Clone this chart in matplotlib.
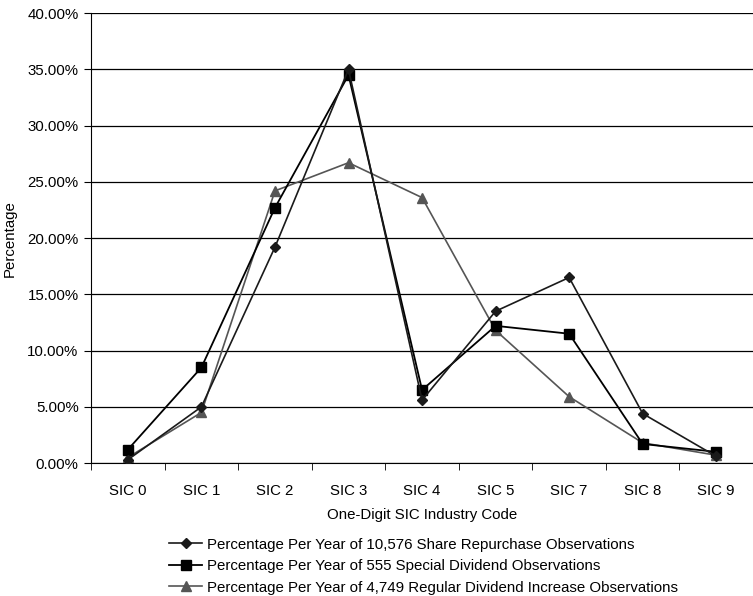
# librerías
import matplotlib
matplotlib.use("Agg")
import matplotlib.pyplot as plt
from matplotlib.ticker import FuncFormatter, MultipleLocator

plt.rcParams['font.family'] = ['Liberation Sans', 'DejaVu Sans']

# datos
categorias = ["SIC 0", "SIC 1", "SIC 2", "SIC 3", "SIC 4", "SIC 5", "SIC 7", "SIC 8", "SIC 9"]
recompra = [0.3, 5.0, 19.2, 35.0, 5.6, 13.5, 16.5, 4.4, 0.6]
especial = [1.2, 8.5, 22.7, 34.5, 6.5, 12.2, 11.5, 1.7, 1.0]
regular = [0.5, 4.5, 24.2, 26.7, 23.6, 11.8, 5.9, 1.8, 0.7]

etiquetas = [
    "Percentage Per Year of 10,576 Share Repurchase Observations",
    "Percentage Per Year of 555 Special Dividend Observations",
    "Percentage Per Year of 4,749 Regular Dividend Increase Observations",
]

fig = plt.figure(figsize=(7.53, 5.96), dpi=100)
ax = fig.add_axes([0.121, 0.223, 0.879, 0.755])

x = list(range(len(categorias)))
l1, = ax.plot(x, [v / 100 for v in recompra], color="#1a1a1a", lw=1.2,
              marker="D", ms=5.5, zorder=4)
l2, = ax.plot(x, [v / 100 for v in especial], color="black", lw=1.3,
              marker="s", ms=7, zorder=3)
l3, = ax.plot(x, [v / 100 for v in regular], color="#555555", lw=1.2,
              marker="^", ms=7, zorder=2)

ax.set_xlim(-0.5, len(categorias) - 0.5)
ax.set_ylim(0, 0.40)
ax.yaxis.set_major_locator(MultipleLocator(0.05))
ax.yaxis.set_major_formatter(FuncFormatter(lambda v, p: "%.2f%%" % (v * 100)))
ax.grid(axis="y", color="black", lw=0.9)
ax.set_axisbelow(True)

ax.set_xticks(x)
ax.set_xticklabels(categorias)
ax.set_xticks([i - 0.5 for i in range(len(categorias) + 1)], minor=True)
ax.tick_params(axis="x", which="major", length=0, pad=15, labelsize=10.8)
ax.tick_params(axis="x", which="minor", length=5, direction="out", color="black")
ax.tick_params(axis="y", length=5, direction="out", labelsize=10.8, pad=4)

for lado in ["top", "right"]:
    ax.spines[lado].set_visible(False)
ax.spines["left"].set_color("black")
ax.spines["bottom"].set_color("black")

ax.set_xlabel("One-Digit SIC Industry Code", fontsize=10.8, labelpad=7)
ax.set_ylabel("Percentage", fontsize=10.8, labelpad=8)

fig.legend([l1, l2, l3], etiquetas, loc="upper left",
           bbox_to_anchor=(0.225, 0.098), frameon=False, fontsize=10.8,
           handlelength=2.2, handletextpad=0.3, labelspacing=0.5,
           borderaxespad=0, borderpad=0)

fig.savefig("out.png", dpi=100)
